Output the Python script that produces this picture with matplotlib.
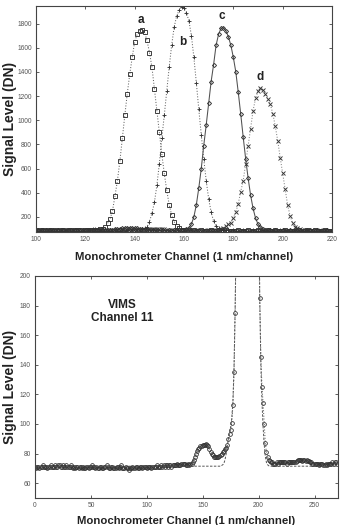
import matplotlib
matplotlib.use("Agg")
import matplotlib.pyplot as plt
import numpy as np

plt.rcParams['font.family'] = ['Liberation Sans', 'DejaVu Sans']

# ---------------- top panel data (channels 100..220) ----------------
top_channels = list(range(100, 221))

curve_a = [
    88, 87, 89, 88, 86, 88, 89, 87, 88, 87,
    88, 89, 87, 88, 88, 86, 88, 89, 88, 87,
    88, 89, 90, 91, 92, 94, 96, 100, 115, 146,
    180, 250, 370, 500, 660, 850, 1040, 1220, 1380, 1520,
    1650, 1710, 1740, 1750, 1728, 1660, 1560, 1440, 1260, 1080,
    900, 720, 560, 420, 300, 215, 160, 125, 105, 95,
    90, 89, 88, 87, 88, 86, 87, 88, 87, 86,
    87, 88, 86, 87, 88, 87, 86, 88, 87, 87,
    86, 87, 88, 87, 86, 87, 88, 87, 86, 87,
    88, 87, 86, 87, 88, 86, 87, 88, 87, 86,
    87, 88, 86, 87, 86, 87, 88, 87, 86, 87,
    88, 86, 87, 88, 87, 86, 87, 88, 86, 87,
    87]

curve_b = [
    86, 87, 86, 88, 87, 86, 87, 86, 87, 88,
    87, 86, 87, 88, 87, 86, 88, 87, 86, 87,
    88, 90, 94, 97, 98, 96, 93, 90, 88, 87,
    86, 87, 88, 87, 86, 88, 87, 88, 89, 88,
    90, 92, 95, 99, 104, 115, 160, 230, 320, 460,
    640, 850, 1040, 1240, 1440, 1620, 1770, 1860, 1910, 1935,
    1925, 1890, 1820, 1700, 1520, 1310, 1090, 880, 680, 500,
    350, 240, 165, 125, 105, 96, 92, 90, 89, 87,
    88, 87, 86, 87, 88, 87, 86, 87, 88, 87,
    86, 87, 88, 86, 87, 88, 87, 86, 87, 88,
    87, 86, 87, 88, 87, 86, 88, 87, 86, 87,
    88, 87, 86, 87, 88, 87, 86, 87, 88, 86,
    87]

curve_c = [
    87, 88, 87, 86, 88, 87, 88, 89, 87, 88,
    87, 88, 86, 87, 88, 87, 88, 87, 86, 88,
    87, 88, 87, 88, 89, 88, 87, 88, 89, 90,
    92, 94, 97, 100, 103, 106, 108, 110, 110, 109,
    108, 106, 103, 100, 97, 94, 92, 90, 89, 88,
    87, 88, 87, 86, 88, 87, 88, 87, 88, 90,
    92, 96, 110, 140, 200, 300, 440, 600, 790, 960,
    1140, 1320, 1460, 1620, 1710, 1760, 1765, 1740, 1690, 1620,
    1520, 1400, 1230, 1050, 860, 680, 520, 380, 270, 190,
    140, 115, 100, 93, 90, 88, 87, 88, 86, 87,
    88, 87, 86, 88, 87, 86, 87, 88, 87, 86,
    87, 88, 86, 87, 88, 87, 86, 87, 88, 87,
    86]

curve_d = [
    88, 87, 88, 89, 87, 88, 87, 86, 88, 87,
    88, 87, 88, 86, 87, 88, 87, 88, 87, 88,
    87, 88, 86, 87, 88, 87, 88, 87, 86, 88,
    87, 88, 87, 88, 89, 88, 87, 88, 87, 88,
    87, 88, 89, 90, 92, 94, 96, 98, 99, 100,
    100, 99, 97, 95, 93, 91, 90, 89, 88, 87,
    88, 87, 86, 88, 87, 88, 87, 86, 88, 87,
    88, 89, 90, 92, 95, 100, 110, 125, 140, 150,
    190, 240, 310, 410, 500, 640, 790, 930, 1080, 1180,
    1240, 1270, 1250, 1215, 1175, 1130, 1055, 950, 830, 690,
    560, 430, 300, 210, 150, 120, 104, 96, 92, 90,
    88, 87, 88, 87, 86, 88, 87, 88, 87, 86,
    87]

top_labels = ['a', 'b', 'c', 'd']
top_label_x = [142.5, 159.5, 175.5, 191]
top_label_y = [1830, 1650, 1860, 1360]
top_xticks = [100, 120, 140, 160, 180, 200, 220]
top_yticks = [200, 400, 600, 800, 1000, 1200, 1400, 1600, 1800]

# ---------------- bottom panel data (channels 0..270) ----------------
vims_channels = list(range(0, 271))
vims_signal = [
    71, 70, 71, 71, 70, 71, 71, 72, 71, 71,
    71, 70, 71, 71, 72, 71, 71, 71, 72, 71,
    71, 72, 72, 71, 71, 72, 71, 71, 72, 71,
    71, 71, 72, 71, 70, 71, 70, 71, 71, 70,
    71, 71, 70, 71, 70, 70, 71, 71, 70, 71,
    71, 72, 71, 71, 70, 71, 70, 70, 71, 71,
    70, 70, 71, 71, 72, 71, 70, 70, 71, 71,
    70, 70, 70, 71, 71, 70, 71, 72, 70, 70,
    70, 71, 70, 70, 69, 70, 70, 71, 70, 70,
    71, 71, 70, 70, 71, 71, 70, 71, 71, 71,
    70, 71, 71, 71, 70, 71, 71, 71, 71, 72,
    71, 71, 71, 72, 71, 72, 71, 72, 72, 71,
    72, 72, 71, 72, 72, 72, 72, 73, 72, 72,
    72, 73, 73, 73, 73, 72, 72, 73, 72, 73,
    73, 74, 76, 78, 80, 82, 83, 84, 85, 85,
    86, 86, 86, 86.5, 86, 85, 83, 81, 80, 79,
    78, 78, 77.5, 78, 78, 78.5, 79, 80, 81, 82,
    83, 84, 86, 90, 93, 96, 101, 113, 135, 175,
    230, 320, 450, 620, 820, 1040, 1250, 1420, 1540, 1600,
    1610, 1580, 1500, 1380, 1220, 1030, 830, 630, 450, 310,
    230, 185, 145, 125, 114, 100, 87, 81, 78, 76,
    75, 74, 74, 73, 73, 73, 74, 73, 74, 74,
    74, 74, 74, 74, 74, 73, 74, 74, 74, 74,
    74, 74, 74, 74, 75, 76, 76, 76, 76, 75,
    76, 76, 75, 76, 75, 75, 74, 74, 73, 73,
    73, 73, 73, 73, 72, 73, 73, 73, 72, 72,
    73, 72, 73, 73, 73, 73, 74, 73, 74, 74,
    73]

fit_channels = [0, 166, 167, 168, 169, 170, 171, 172, 173, 174, 175, 176, 177,
                178, 179, 180, 181, 200, 201, 202, 203, 204, 205, 206, 207, 208,
                209, 210, 270]
fit_signal = [71.5, 71.5, 72, 72.5, 73.5, 76, 80, 85, 90, 94, 98, 104, 115,
              138, 178, 235, 320, 310, 185, 140, 115, 98, 86, 78, 74, 72.5,
              71.8, 71.5, 71.5]

bottom_xticks = [0, 50, 100, 150, 200, 250]
bottom_yticks = [60, 80, 100, 120, 140, 160, 180, 200]

# ---------------- figure ----------------
W, H = 343, 525
fig = plt.figure(figsize=(W / 100, H / 100), dpi=100)

ax1 = fig.add_axes([36 / W, 1 - 232 / H, (332 - 36) / W, (232 - 6) / H])
ax2 = fig.add_axes([35 / W, 1 - 498 / H, (338 - 35) / W, (498 - 276) / H])

line_col = '#666666'
mk_col = '#333333'

ax1.plot(top_channels, curve_a, linestyle=':', color=line_col, lw=0.75,
         marker='s', ms=2.7, mfc='none', mec=mk_col, mew=0.65)
ax1.plot(top_channels, curve_b, linestyle=':', color=line_col, lw=0.75,
         marker='+', ms=3.2, mec=mk_col, mew=0.65)
ax1.plot(top_channels, curve_c, linestyle='-', color='#505050', lw=0.75,
         marker='D', ms=2.1, mfc='none', mec=mk_col, mew=0.65)
ax1.plot(top_channels, curve_d, linestyle=':', color='#858585', lw=0.75,
         marker='x', ms=2.5, mec=mk_col, mew=0.65)

for lab, lx, ly in zip(top_labels, top_label_x, top_label_y):
    ax1.text(lx, ly, lab, ha='center', va='center', fontsize=8.5,
             fontweight='bold', color='#222222')

ax1.set_xlim(100, 220)
ax1.set_ylim(75, 1945)
ax1.set_xticks(top_xticks)
ax1.set_yticks(top_yticks)

ax2.plot(vims_channels, vims_signal, linestyle=':', color=line_col, lw=0.75,
         marker='o', ms=2.7, mfc='none', mec=mk_col, mew=0.6)
ax2.plot(fit_channels, fit_signal, linestyle=(0, (2.5, 1.5)), color='#555555',
         lw=0.7)
ax2.text(78, 176, 'VIMS\nChannel 11', ha='center', va='center', fontsize=8.5,
         fontweight='bold', color='#222222', linespacing=1.15)

ax2.set_xlim(0, 271)
ax2.set_ylim(50, 200)
ax2.set_xticks(bottom_xticks)
ax2.set_yticks(bottom_yticks)

for ax in (ax1, ax2):
    ax.tick_params(direction='in', length=2.5, width=0.6, top=True, right=True,
                   labelsize=4.8, labelcolor='#555555', color='#444444', pad=3)
    for s in ax.spines.values():
        s.set_color('#444444')
        s.set_linewidth(0.8)
    ax.set_ylabel('Signal Level (DN)', fontsize=10, fontweight='bold',
                  color='#222222')
    ax.set_xlabel('Monochrometer Channel (1 nm/channel)', fontsize=8.2,
                  fontweight='bold', color='#222222')
    ax.yaxis.label.set_va('center')
    ax.xaxis.label.set_va('center')

ax1.yaxis.set_label_coords((10 - 36) / 296, 0.5)
ax1.xaxis.set_label_coords(0.5, (232 - 256.5) / 226)
ax2.yaxis.set_label_coords((10 - 35) / 303, 0.5)
ax2.xaxis.set_label_coords(0.5, (498 - 521.5) / 222)

fig.savefig('out.png', dpi=100)
